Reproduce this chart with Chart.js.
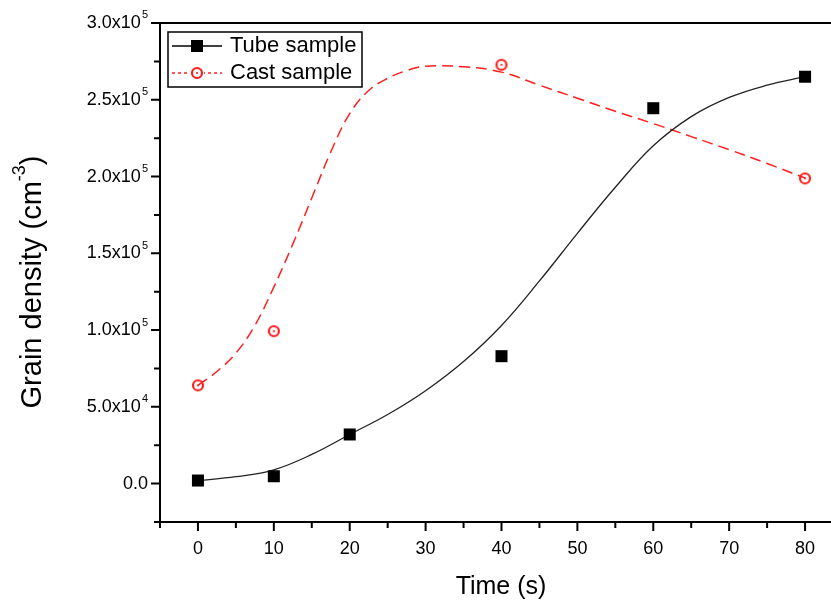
<!DOCTYPE html>
<html>
<head>
<meta charset="utf-8">
<script src="https://cdn.jsdelivr.net/npm/chart.js@4"></script>
<style>
  html, body { margin: 0; padding: 0; overflow: hidden; background: #fff; }
  #wrap { width: 860px; height: 603px; }
</style>
</head>
<body>
<div id="wrap"><canvas id="grainChart"></canvas></div>
<script>
// measured points
const tubeTime = [0, 10, 20, 40, 60, 80];
const tubeDensity = [2000, 4800, 32000, 83000, 244500, 265000];
const castTime = [0, 10, 40, 80];
const castDensity = [64000, 99300, 272800, 198800];

// fitted curves
const tubeFitTime = [0, 5, 10, 15, 20, 25, 30, 35, 40, 45, 50, 55, 60, 65, 70, 75, 80];
const tubeFitDensity = [2000, 4500, 9000, 19000, 32000, 45000, 60500, 79500, 103000, 132000, 163000, 193000, 220000, 239000, 251500, 259500, 265000];
const castFitTime = [0, 2.5, 5, 7.5, 10, 12.5, 15, 17.5, 20, 22.5, 25, 27.5, 30, 35, 40, 45, 50, 55, 60, 65, 70, 75, 80];
const castFitDensity = [64000, 73000, 85000, 103000, 128000, 156000, 186000, 216000, 241000, 256000, 264000, 269000, 271800, 271500, 268000, 259500, 251000, 242500, 234500, 226000, 217500, 208500, 199000];

// axes
const xMajorTicks = [0, 10, 20, 30, 40, 50, 60, 70, 80];
const xMinorTicks = [-5, 5, 15, 25, 35, 45, 55, 65, 75, 85];
const yMajorTicks = [0, 50000, 100000, 150000, 200000, 250000, 300000];
const yMinorTicks = [-25000, 25000, 75000, 125000, 175000, 225000, 275000];
const yTickBase = ['0.0', '5.0x10', '1.0x10', '1.5x10', '2.0x10', '2.5x10', '3.0x10'];
const yTickExp = ['', '4', '5', '5', '5', '5', '5'];

const toXY = (xs, ys) => xs.map((x, i) => ({ x: x, y: ys[i] }));

const RED = 'rgb(255,30,30)';
const FONT = '"Liberation Sans", Arial, sans-serif';

function ringMarker() {
    const c = document.createElement('canvas');
    c.width = 14; c.height = 14;
    const g = c.getContext('2d');
    g.strokeStyle = RED;
    g.lineWidth = 2.2;
    g.beginPath();
    g.arc(7, 7, 5, 0, Math.PI * 2);
    g.stroke();
    g.fillStyle = RED;
    g.beginPath();
    g.arc(7, 7, 1.1, 0, Math.PI * 2);
    g.fill();
    return c;
}
const castMarker = ringMarker();

function supText(ctx, base, exp, x, y, align, size) {
    ctx.font = size + 'px ' + FONT;
    const wb = ctx.measureText(base).width;
    ctx.font = Math.round(size * 0.6) + 'px ' + FONT;
    const we = exp ? ctx.measureText(exp).width + 1 : 0;
    let start = x;
    if (align === 'right') start = x - wb - we;
    if (align === 'center') start = x - (wb + we) / 2;
    ctx.textAlign = 'left';
    ctx.textBaseline = 'middle';
    ctx.font = size + 'px ' + FONT;
    ctx.fillText(base, start, y);
    if (exp) {
        ctx.font = Math.round(size * 0.6) + 'px ' + FONT;
        ctx.fillText(exp, start + wb + 1, y - size * 0.42);
    }
}

const axesPlugin = {
    id: 'originAxes',
    afterDraw(chart) {
        const ctx = chart.ctx;
        const a = chart.chartArea;
        const xs = chart.scales.x;
        const ys = chart.scales.y;
        ctx.save();
        ctx.strokeStyle = '#000';
        ctx.fillStyle = '#000';
        ctx.lineWidth = 2;
        ctx.strokeRect(a.left, a.top, a.right - a.left, a.bottom - a.top);

        ctx.beginPath();
        xMajorTicks.forEach(v => { const p = xs.getPixelForValue(v); ctx.moveTo(p, a.bottom); ctx.lineTo(p, a.bottom + 9); });
        xMinorTicks.forEach(v => { const p = xs.getPixelForValue(v); ctx.moveTo(p, a.bottom); ctx.lineTo(p, a.bottom + 6); });
        yMajorTicks.forEach(v => { const p = ys.getPixelForValue(v); ctx.moveTo(a.left, p); ctx.lineTo(a.left - 9, p); });
        yMinorTicks.forEach(v => { const p = ys.getPixelForValue(v); ctx.moveTo(a.left, p); ctx.lineTo(a.left - 6, p); });
        ctx.stroke();

        ctx.textAlign = 'center';
        ctx.textBaseline = 'middle';
        ctx.font = '18px ' + FONT;
        xMajorTicks.forEach(v => ctx.fillText(String(v), xs.getPixelForValue(v), a.bottom + 27));
        yMajorTicks.forEach((v, i) => supText(ctx, yTickBase[i], yTickExp[i], a.left - 12, ys.getPixelForValue(v), 'right', 18));

        // axis titles
        ctx.textAlign = 'center';
        ctx.font = '25px ' + FONT;
        ctx.fillText('Time (s)', 501, 587);
        ctx.save();
        ctx.translate(33, 282);
        ctx.rotate(-Math.PI / 2);
        ctx.font = '29px ' + FONT;
        const t1 = 'Grain density (cm';
        const w1 = ctx.measureText(t1).width;
        ctx.font = '18px ' + FONT;
        const w2 = ctx.measureText('-3').width;
        ctx.font = '29px ' + FONT;
        const w3 = ctx.measureText(')').width;
        const s = -(w1 + w2 + w3) / 2;
        ctx.textAlign = 'left';
        ctx.fillText(t1, s, 0);
        ctx.font = '18px ' + FONT;
        ctx.fillText('-3', s + w1, -13);
        ctx.font = '29px ' + FONT;
        ctx.fillText(')', s + w1 + w2, 0);
        ctx.restore();

        // legend
        ctx.lineWidth = 1.5;
        ctx.strokeRect(168, 32, 194, 55);
        ctx.lineWidth = 1.3;
        ctx.strokeStyle = '#000';
        ctx.beginPath(); ctx.moveTo(172, 46); ctx.lineTo(222, 46); ctx.stroke();
        ctx.fillRect(191, 40, 12, 12);
        ctx.strokeStyle = RED;
        ctx.lineWidth = 1.5;
        ctx.setLineDash([3, 3]);
        ctx.beginPath(); ctx.moveTo(172, 73); ctx.lineTo(222, 73); ctx.stroke();
        ctx.setLineDash([]);
        ctx.fillStyle = '#fff';
        ctx.fillRect(190, 66, 14, 14);
        ctx.drawImage(castMarker, 190, 66);
        ctx.fillStyle = '#000';
        ctx.font = '22px ' + FONT;
        ctx.textAlign = 'left';
        ctx.fillText('Tube sample', 230, 46);
        ctx.fillText('Cast sample', 230, 73);
        ctx.restore();
    }
};

new Chart(document.getElementById('grainChart'), {
    type: 'scatter',
    data: {
        datasets: [{
            label: 'Tube sample',
            data: toXY(tubeTime, tubeDensity),
            pointStyle: 'rect',
            pointRadius: 8.5,
            backgroundColor: '#000',
            borderWidth: 0,
            order: 0
        }, {
            label: 'Cast sample',
            data: toXY(castTime, castDensity),
            pointStyle: castMarker,
            order: 0
        }, {
            label: 'Tube fit',
            data: toXY(tubeFitTime, tubeFitDensity),
            showLine: true,
            pointRadius: 0,
            borderColor: '#222',
            borderWidth: 1.3,
            tension: 0.4,
            order: 1
        }, {
            label: 'Cast fit',
            data: toXY(castFitTime, castFitDensity),
            showLine: true,
            pointRadius: 0,
            borderColor: RED,
            borderWidth: 1.5,
            borderDash: [11, 6],
            tension: 0.4,
            order: 1
        }]
    },
    options: {
        responsive: true,
        maintainAspectRatio: false,
        animation: false,
        layout: { padding: { left: 160, top: 23, right: 17, bottom: 81 } },
        scales: {
            x: { type: 'linear', min: -5, max: 85, display: false },
            y: { type: 'linear', min: -25000, max: 300000, display: false }
        },
        plugins: {
            legend: { display: false },
            tooltip: { enabled: false }
        }
    },
    plugins: [axesPlugin]
});
</script>
</body>
</html>
